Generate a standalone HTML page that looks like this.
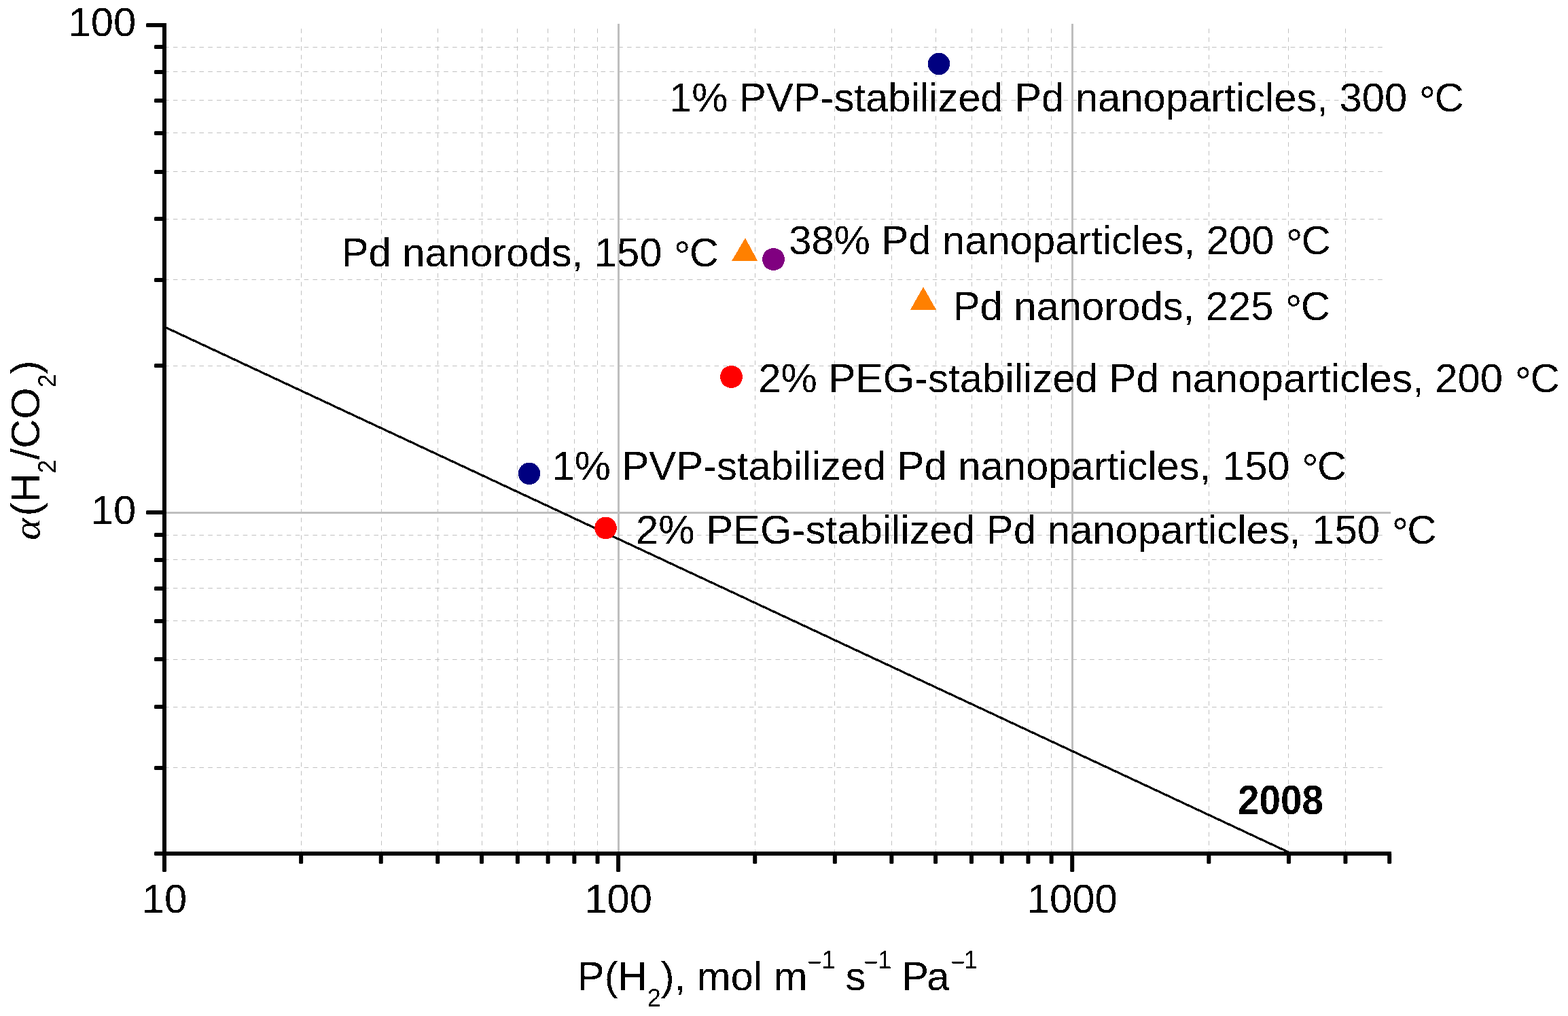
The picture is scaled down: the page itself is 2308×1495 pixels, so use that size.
<!DOCTYPE html>
<html><head><meta charset="utf-8"><title>H2/CO2 selectivity vs permeability</title>
<style>
html,body{margin:0;padding:0;background:#fff;overflow:hidden;}
svg{display:block;}
text{font-family:"Liberation Sans",Arial,sans-serif;font-kerning:none;fill:#000;}
</style></head><body>
<svg width="2308" height="1495" viewBox="0 0 2308 1495">
<defs><filter id="crisp" x="0" y="0" width="2308" height="1495" filterUnits="userSpaceOnUse" color-interpolation-filters="sRGB"><feComponentTransfer><feFuncA type="discrete" tableValues="0 1"/></feComponentTransfer></filter></defs>
<rect width="2308" height="1495" fill="#fff"/>
<path d="M242 538.5H2040M242 411.5H2040M242 322.5H2040M242 252.5H2040M242 195.5H2040M242 147.5H2040M242 105.5H2040M242 69.5H2040M242 1129.5H2040M242 1040.5H2040M242 970.5H2040M242 913.5H2040M242 865.5H2040M242 823.5H2040M242 787.5H2040" stroke="#c0c0c0" stroke-width="1" stroke-dasharray="6.6 6.25" fill="none"/>
<path d="M443.5 1256.7V36M561.5 1256.7V36M644.5 1256.7V36M709.5 1256.7V36M761.5 1256.7V36M806.5 1256.7V36M845.5 1256.7V36M879.5 1256.7V36M1111.5 1256.7V36M1228.5 1256.7V36M1312.5 1256.7V36M1377.5 1256.7V36M1430.5 1256.7V36M1474.5 1256.7V36M1513.5 1256.7V36M1547.5 1256.7V36M1779.5 1256.7V36M1896.5 1256.7V36M1980.5 1256.7V36" stroke="#c0c0c0" stroke-width="1" stroke-dasharray="6.6 6.25" fill="none"/>
<path d="M242 754.5H2047M910.5 1256V35M1578.5 1256V35" stroke="#bebebe" stroke-width="3" fill="none"/>
<path d="M242 480.9L1901 1256" stroke="#000" stroke-width="3.2" fill="none" shape-rendering="crispEdges"/>
<g shape-rendering="crispEdges">
<circle cx="1382" cy="94" r="16.2" fill="#000080"/>
<path d="M1097 350.2L1115.2 384H1076.9Z" fill="#ff8000"/>
<circle cx="1138.5" cy="381.5" r="16.5" fill="#800080"/>
<path d="M1359 422.1L1378 455.8H1340Z" fill="#ff8000"/>
<circle cx="1076.5" cy="554.5" r="16.5" fill="#ff0000"/>
<circle cx="779" cy="696.8" r="16.2" fill="#000080"/>
<circle cx="891.5" cy="777" r="16.3" fill="#ff0000"/>
</g>
<g fill="#000">
<rect x="239" y="34" width="6" height="1225"/>
<rect x="239" y="1253" width="1809" height="6"/>
<rect x="215" y="34" width="28" height="6" rx="1.6"/>
<rect x="215" y="751" width="28" height="6" rx="1.6"/>
<rect x="227" y="66" width="16" height="6" rx="1.6"/>
<rect x="227" y="103" width="16" height="6" rx="1.6"/>
<rect x="227" y="145" width="16" height="6" rx="1.6"/>
<rect x="227" y="193" width="16" height="6" rx="1.6"/>
<rect x="227" y="250" width="16" height="6" rx="1.6"/>
<rect x="227" y="319" width="16" height="6" rx="1.6"/>
<rect x="227" y="409" width="16" height="6" rx="1.6"/>
<rect x="227" y="535" width="16" height="6" rx="1.6"/>
<rect x="227" y="784" width="16" height="6" rx="1.6"/>
<rect x="227" y="821" width="16" height="6" rx="1.6"/>
<rect x="227" y="863" width="16" height="6" rx="1.6"/>
<rect x="227" y="911" width="16" height="6" rx="1.6"/>
<rect x="227" y="967" width="16" height="6" rx="1.6"/>
<rect x="227" y="1037" width="16" height="6" rx="1.6"/>
<rect x="227" y="1127" width="16" height="6" rx="1.6"/>
<rect x="227" y="1253" width="16" height="6" rx="1.6"/>
<rect x="239" y="1255" width="6" height="28" rx="1.6"/>
<rect x="907.1" y="1255" width="6" height="28" rx="1.6"/>
<rect x="1575.2" y="1255" width="6" height="28" rx="1.6"/>
<rect x="440.12" y="1255" width="6" height="16" rx="1.6"/>
<rect x="557.76" y="1255" width="6" height="16" rx="1.6"/>
<rect x="641.24" y="1255" width="6" height="16" rx="1.6"/>
<rect x="705.98" y="1255" width="6" height="16" rx="1.6"/>
<rect x="758.88" y="1255" width="6" height="16" rx="1.6"/>
<rect x="803.61" y="1255" width="6" height="16" rx="1.6"/>
<rect x="842.35" y="1255" width="6" height="16" rx="1.6"/>
<rect x="876.53" y="1255" width="6" height="16" rx="1.6"/>
<rect x="1108.22" y="1255" width="6" height="16" rx="1.6"/>
<rect x="1225.86" y="1255" width="6" height="16" rx="1.6"/>
<rect x="1309.34" y="1255" width="6" height="16" rx="1.6"/>
<rect x="1374.08" y="1255" width="6" height="16" rx="1.6"/>
<rect x="1426.98" y="1255" width="6" height="16" rx="1.6"/>
<rect x="1471.71" y="1255" width="6" height="16" rx="1.6"/>
<rect x="1510.45" y="1255" width="6" height="16" rx="1.6"/>
<rect x="1544.63" y="1255" width="6" height="16" rx="1.6"/>
<rect x="1776.32" y="1255" width="6" height="16" rx="1.6"/>
<rect x="1893.96" y="1255" width="6" height="16" rx="1.6"/>
<rect x="1977.44" y="1255" width="6" height="16" rx="1.6"/>
<rect x="2042.18" y="1255" width="6" height="16" rx="1.6"/>
</g>
<g filter="url(#crisp)">
<g font-size="59.75" text-anchor="end">
<text x="200.3" y="52.8">100</text>
<text x="200.3" y="770.8">10</text>
</g>
<g font-size="59.75" text-anchor="middle">
<text x="242" y="1342.9">10</text>
<text x="910.1" y="1342.9">100</text>
<text x="1578.2" y="1342.9">1000</text>
</g>
<text x="985.1" y="164.1" font-size="59.75" xml:space="preserve">1% PVP-stabilized Pd nanoparticles, 300 <tspan dy="5.5" dx="1" font-size="61">°</tspan><tspan dy="-5.5" dx="-1.8">C</tspan></text>
<text x="502.7" y="392.1" font-size="59.75" xml:space="preserve">Pd nanorods, 150 <tspan dy="5.5" dx="1" font-size="61">°</tspan><tspan dy="-5.5" dx="-1.8">C</tspan></text>
<text x="1161.2" y="374.2" font-size="59.75" xml:space="preserve">38% Pd nanoparticles, 200 <tspan dy="5.5" dx="1" font-size="61">°</tspan><tspan dy="-5.5" dx="-1.8">C</tspan></text>
<text x="1402.7" y="471.1" font-size="59.75" xml:space="preserve">Pd nanorods, 225 <tspan dy="5.5" dx="1" font-size="61">°</tspan><tspan dy="-5.5" dx="-1.8">C</tspan></text>
<text x="1116.3" y="577" font-size="59.93" xml:space="preserve">2% PEG-stabilized Pd nanoparticles, 200 <tspan dy="5.5" dx="1" font-size="61">°</tspan><tspan dy="-5.5" dx="-1.8">C</tspan></text>
<text x="812.5" y="705.9" font-size="59.75" xml:space="preserve">1% PVP-stabilized Pd nanoparticles, 150 <tspan dy="5.5" dx="1" font-size="61">°</tspan><tspan dy="-5.5" dx="-1.8">C</tspan></text>
<text x="936.0" y="799.6" font-size="59.88" xml:space="preserve">2% PEG-stabilized Pd nanoparticles, 150 <tspan dy="5.5" dx="1" font-size="61">°</tspan><tspan dy="-5.5" dx="-1.8">C</tspan></text>
<text x="1821.9" y="1197.8" font-size="62" font-weight="bold" textLength="126" lengthAdjust="spacingAndGlyphs">2008</text>
<text x="849.8" y="1456.8" font-size="59.75" xml:space="preserve">P(H<tspan font-size="36" dy="24">2</tspan><tspan dy="-24">), mol m</tspan><tspan font-size="36" dy="-29">−</tspan><tspan font-size="36" dy="-2.6">1</tspan><tspan dy="31.6" dx="-1.6"> s</tspan><tspan font-size="36" dy="-29" dx="-3.2">−</tspan><tspan font-size="36" dy="-2.6">1</tspan><tspan dy="31.6" dx="-1.6"> P</tspan><tspan dx="-3">a</tspan><tspan font-size="36" dy="-29" dx="1.8">−</tspan><tspan font-size="36" dy="-2.6" dx="-1.5">1</tspan></text>
<text transform="translate(57.6 794.7) rotate(-90) scale(1.12 1)" font-family="Liberation Serif" font-style="italic" font-size="54.4" style="font-family:'Liberation Serif',serif">α</text>
<text transform="translate(58.1 759.5) rotate(-90)" font-size="59.75" xml:space="preserve">(H<tspan font-size="36" dy="24">2</tspan><tspan dy="-24">/CO</tspan><tspan font-size="36" dy="24">2</tspan><tspan dy="-24">)</tspan></text>
</g>
</svg>
</body></html>
